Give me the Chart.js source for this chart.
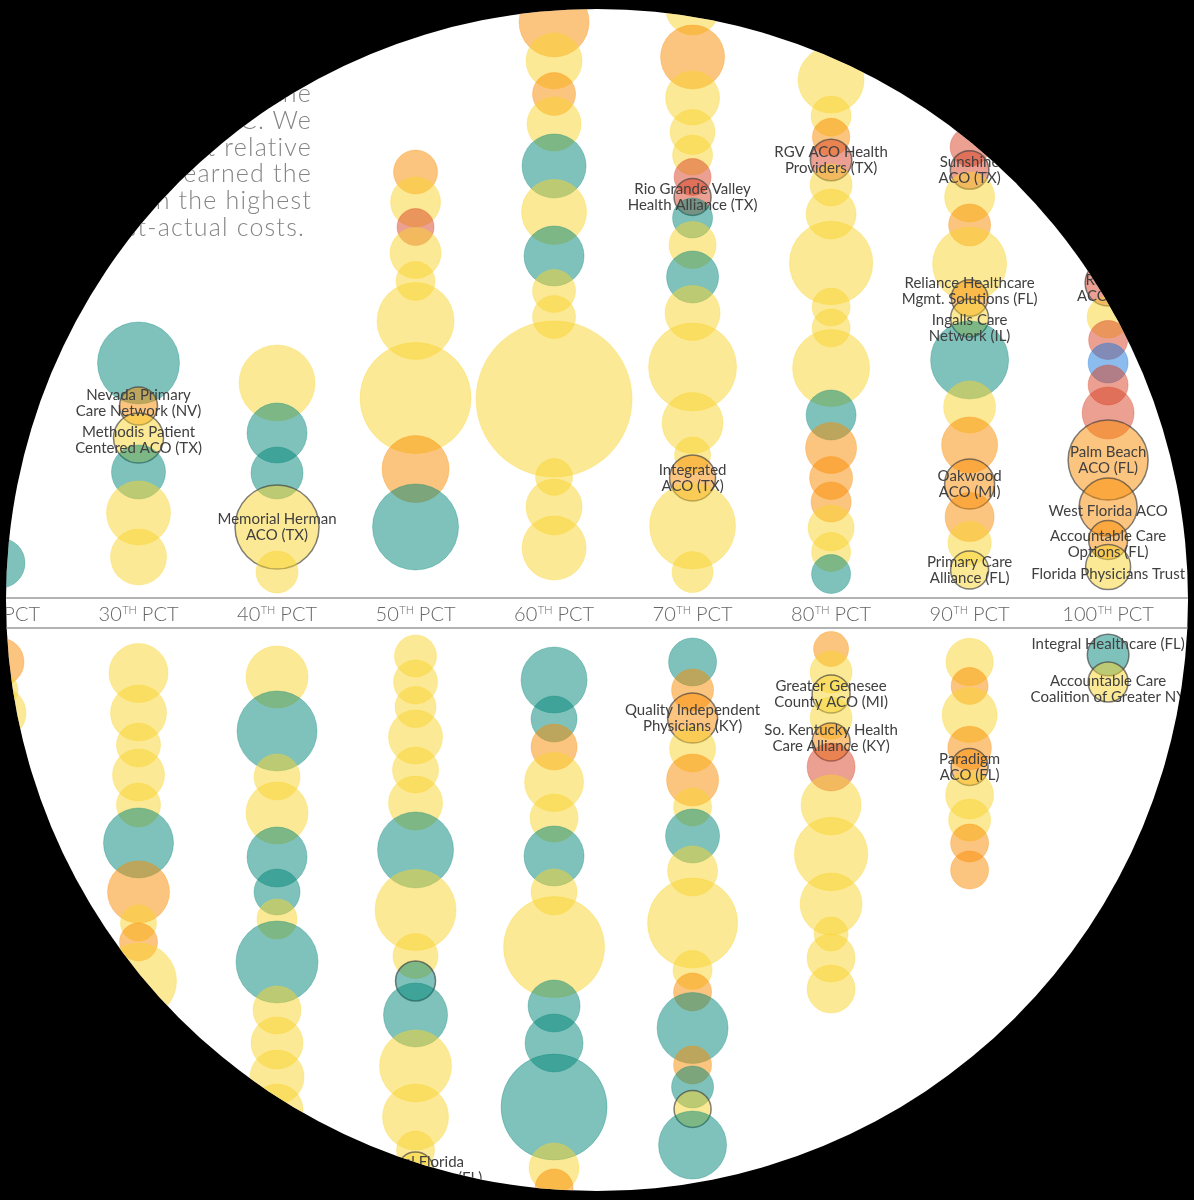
<!DOCTYPE html>
<html><head><meta charset="utf-8">
<script src="https://cdn.jsdelivr.net/npm/chart.js@4.4.1/dist/chart.umd.min.js"></script>
<style>
html,body{margin:0;padding:0;background:#000;width:1194px;height:1200px;overflow:hidden}
#wrap{position:absolute;left:0;top:0;width:1194px;height:1200px;background:#fff;clip-path:circle(591px at 597px 600px)}
#c{position:absolute;left:0;top:0}
#intro{position:absolute;right:882px;top:79px;width:760px;font-family:Lato,'Open Sans',sans-serif;font-weight:300;font-size:25px;line-height:26.8px;color:#858585;text-align:right;letter-spacing:1.2px;white-space:nowrap}
#intro .last{padding-right:7px}
</style></head><body>
<div id="wrap">
<canvas id="c" width="1194" height="1200"></canvas>
<div id="intro">
<div>The chart below ranks each ACO by the</div>
<div>percentile of costs reported by the CMMC. We</div>
<div>identified those with the highest relative</div>
<div>savings, and found that those that earned the</div>
<div>most savings also ranked in the highest</div>
<div class="last">percentile of highest-actual costs.</div>
</div>
</div>
<script>
// ---- data (y = vertical position, r = bubble size, type = group, name = highlighted ACO) ----
const percentiles = [20, 30, 40, 50, 60, 70, 80, 90, 100];
const tickLabels = ['20', '30', '40', '50', '60', '70', '80', '90', '100'];
const tickSuffix = 'TH';
const tickUnit = 'PCT';

const col20 = [[563,25,'T'],[662,24,'O'],[690,18,'Y'],[713,26,'Y']];
const col30 = [[363,41,'T'],[406,19,'O','Nevada Primary\nCare Network (NV)'],[438,25,'Y','Methodis Patient\nCentered ACO (TX)'],[472,27,'T'],[513,32,'Y'],[557,28,'Y'],
  [673,29.5,'Y'],[713,28,'Y'],[745,22,'Y'],[775,26,'Y'],[805,22,'Y'],[843,35,'T'],[892,31,'O'],[923,18,'Y'],[942,19,'O'],[981,38,'Y'],[1030,26,'Y']];
const col40 = [[383,38,'Y'],[433,30,'T'],[473,26,'T'],[527,42,'Y','Memorial Herman\nACO (TX)'],[572,21,'Y'],
  [677,31,'Y'],[731,40,'T'],[777,23,'Y'],[813,31,'Y'],[857,30,'T'],[892,23,'T'],[919,20,'Y'],[962,41,'T'],[1010,24,'Y'],[1043,26,'Y'],[1077,27,'Y'],[1110,26,'Y']];
const col50 = [[172,22,'O'],[202,25,'Y'],[227,18.5,'R'],[253,25.5,'Y'],[281,19.5,'Y'],[321,38.5,'Y'],[398,55.5,'Y'],[469,33.5,'O'],[527,43,'T'],
  [656,21,'Y'],[682,22,'Y'],[707,20.5,'Y'],[737,27,'Y'],[770,23,'Y'],[803,27,'Y'],[850,38,'T'],[910,40.5,'Y'],[956,22.5,'Y'],[981,20,'T',''],[1015,32,'T'],[1066,36,'Y'],[1117,33,'Y'],[1150,19,'Y'],[1170,18,'Y','Central Florida\nHealth Network (FL)']];
const col60 = [[22,35,'O'],[61,28,'Y'],[94,21.5,'O'],[124,27,'Y'],[166,32,'T'],[212,32.5,'Y'],[256,30,'T'],[291,21.5,'Y'],[317,21.5,'Y'],[399,78,'Y'],[477,18.5,'Y'],[507,28,'Y'],[548,32,'Y'],
  [680,33,'T'],[719,23,'T'],[747,23,'O'],[782,29.5,'Y'],[818,24,'Y'],[856,30,'T'],[892,23,'Y'],[947,50.5,'Y'],[1006,26,'T'],[1043,29,'T'],[1107,53,'T'],[1168,25,'Y'],[1188,19,'O']];
const col70 = [[8,27,'Y'],[57,32,'O'],[98,27,'Y'],[132,22.5,'Y'],[155,20,'Y'],[177,18.5,'R'],[197,18.5,'R','Rio Grande Valley\nHealth Alliance (TX)'],[218,20,'T'],[245,23.5,'Y'],[277,26,'T'],[313,27.5,'Y'],[367,44,'Y'],[423,30.5,'Y'],[455,18,'Y'],[478,23,'O','Integrated\nACO (TX)'],[526,43,'Y'],[572,20.5,'Y'],
  [662,24,'T'],[690,21,'O'],[718,25,'O','Quality Independent\nPhysicians (KY)'],[749,23,'Y'],[780,26,'O'],[807,19,'Y'],[836,27,'T'],[871,25,'Y'],[923,45,'Y'],[970,19.5,'Y'],[992,19,'O'],[1028,35.5,'T'],[1065,19,'O'],[1087,21,'T'],[1109,18.5,'Y',''],[1145,34,'T']];
const col80 = [[28,25,'O'],[80,33,'Y'],[116,20,'Y'],[137,18.7,'O'],[160,20.7,'R','RGV ACO Health\nProviders (TX)'],[185,21,'Y'],[214,25,'Y'],[263,41.7,'Y'],[307,19,'Y'],[328,19,'Y'],[368,38.5,'Y'],[415,25,'T'],[448,25.5,'O'],[478,21.5,'O'],[502,20,'O'],[528,23,'Y'],[552,19.5,'Y'],[574,19.5,'T'],
  [649,17.5,'O'],[672,21,'Y'],[694,19,'Y','Greater Genesee\nCounty ACO (MI)'],[718,21,'Y'],[742,19,'O','So. Kentucky Health\nCare Alliance (KY)'],[767,24,'R'],[805,30,'Y'],[854,36.7,'Y'],[904,31,'Y'],[934,17,'Y'],[958,24,'Y'],[989,24,'Y']];
const col90 = [[147,19.5,'R'],[170,19.3,'R','Sunshine\nACO (TX)'],[197,25,'Y'],[225,21,'O'],[264,37,'Y'],[298,18.3,'O','Reliance Healthcare\nMgmt. Solutions (FL)'],[318,19,'Y','Ingalls Care\nNetwork (IL)'],[360,39,'T'],[407,26,'Y'],[445,28,'O'],[484,25,'O','Oakwood\nACO (MI)'],[517,24.5,'O'],[543,21.7,'Y'],[570,19,'Y','Primary Care\nAlliance (FL)'],
  [662,23.7,'Y'],[686,18.5,'O'],[715,27.5,'Y'],[748,21.8,'O'],[767,18.5,'O','Paradigm\nACO (FL)'],[795,24,'Y'],[820,21,'Y'],[843,19,'O'],[870,19,'O']];
const col100 = [[283,23,'R','Reliant\nACO (TX)'],[317,21,'Y'],[340,19.5,'R'],[363,20,'B'],[385,20,'R'],[413,26,'R'],[460,40,'O','Palm Beach\nACO (FL)'],[507,29,'O','West Florida ACO'],[540,19.5,'O','Accountable Care\nOptions (FL)'],[567,22.5,'Y','Florida Physicians Trust'],
  [655,20.8,'T','Integral Healthcare (FL)'],[682,20,'Y','Accountable Care\nCoalition of Greater NY']];
const columns = [col20, col30, col40, col50, col60, col70, col80, col90, col100];

// ---- styles ----
const typeColors = {Y:[250,212,45], T:[0,133,120], O:[250,140,0], R:[215,65,35], B:[25,120,220]};
const labelNudge = {'Reliance Healthcare\nMgmt. Solutions (FL)':-7, 'Ingalls Care\nNetwork (IL)':10, 'West Florida ACO':4, 'Accountable Care\nOptions (FL)':4,
  'Florida Physicians Trust':7, 'Integral Healthcare (FL)':-11, 'Accountable Care\nCoalition of Greater NY':7, 'Nevada Primary\nCare Network (NV)':-3,
  'Methodis Patient\nCentered ACO (TX)':2, 'So. Kentucky Health\nCare Alliance (KY)':-4, 'Reliant\nACO (TX)':5};
const rgba = (c, a) => `rgba(${c[0]},${c[1]},${c[2]},${a})`;
const isHL = p => p && p.name !== undefined;

const datasets = columns.map((col, i) => ({
  label: tickLabels[i] + 'th percentile',
  data: col.map(p => ({x: percentiles[i], y: p[0], r: p[1], type: p[2], name: p[3]})),
  backgroundColor: ctx => ctx.raw ? rgba(typeColors[ctx.raw.type], 0.5) : 'rgba(0,0,0,0)',
  borderColor: ctx => ctx.raw ? (isHL(ctx.raw) ? 'rgba(60,60,60,0.65)' : rgba(typeColors[ctx.raw.type], 0.3)) : 'rgba(0,0,0,0)',
  borderWidth: ctx => ctx.raw && isHL(ctx.raw) ? 1.5 : 1,
  clip: false
}));

const bandPlugin = {
  id: 'band',
  beforeDatasetsDraw(chart) {
    const ctx = chart.ctx, xs = chart.scales.x;
    ctx.save();
    ctx.strokeStyle = '#b3b3b3';
    ctx.lineWidth = 2;
    [598, 628].forEach(y => { ctx.beginPath(); ctx.moveTo(0, y); ctx.lineTo(chart.width, y); ctx.stroke(); });
    ctx.fillStyle = '#666';
    ctx.textBaseline = 'alphabetic';
    ctx.textAlign = 'left';
    const big = '300 20px Lato, sans-serif', small = '300 11px Lato, sans-serif';
    percentiles.forEach((p, i) => {
      const px = xs.getPixelForValue(p);
      ctx.font = big; const w1 = ctx.measureText(tickLabels[i]).width; const w3 = ctx.measureText(' ' + tickUnit).width;
      ctx.font = small; const w2 = ctx.measureText(tickSuffix).width;
      let x0 = px - (w1 + w2 + w3) / 2;
      ctx.font = big; ctx.fillText(tickLabels[i], x0, 621);
      ctx.font = small; ctx.fillText(tickSuffix, x0 + w1 + 0.5, 614);
      ctx.font = big; ctx.fillText(' ' + tickUnit, x0 + w1 + w2, 621);
    });
    ctx.restore();
  }
};

const labelPlugin = {
  id: 'acoLabels',
  afterDatasetsDraw(chart) {
    const ctx = chart.ctx;
    ctx.save();
    ctx.font = '15px Lato, sans-serif';
    ctx.fillStyle = '#404040';
    ctx.textAlign = 'center';
    ctx.textBaseline = 'middle';
    chart.data.datasets.forEach((ds, di) => {
      const meta = chart.getDatasetMeta(di);
      ds.data.forEach((pt, j) => {
        if (!pt.name) return;
        const el = meta.data[j];
        const lines = pt.name.split('\n');
        const cy = el.y + (labelNudge[pt.name] || 0);
        const lh = 15.5;
        lines.forEach((ln, k) => ctx.fillText(ln, el.x, cy + (k - (lines.length - 1) / 2) * lh));
      });
    });
    ctx.restore();
  }
};

new Chart(document.getElementById('c'), {
  type: 'bubble',
  data: {datasets},
  options: {
    responsive: false,
    animation: false,
    events: [],
    devicePixelRatio: 1,
    layout: {padding: 0, autoPadding: false},
    plugins: {legend: {display: false}, tooltip: {enabled: false}},
    scales: {
      x: {type: 'linear', min: 20, max: 106.2, display: false},
      y: {type: 'linear', min: 0, max: 1200, reverse: true, display: false}
    }
  },
  plugins: [bandPlugin, labelPlugin]
});
</script>
</body></html>
